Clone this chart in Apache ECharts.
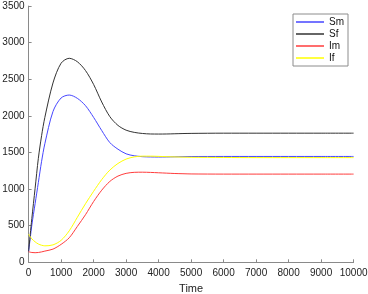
<!DOCTYPE html>
<html>
<head>
<meta charset="utf-8">
<script src="https://cdn.jsdelivr.net/npm/echarts@6/dist/echarts.min.js"></script>
<style>
  html, body { margin: 0; padding: 0; background: #fff; }
  #chart { width: 368px; height: 294px; }
</style>
</head>
<body>
<div id="chart"></div>
<script>
// time points
const times = [0, 50, 100, 200, 300, 400, 500, 750, 1000, 1250, 1500, 1750, 2000, 2250, 2500, 2750, 3000, 3250, 3500, 3750, 4000, 4250, 4500, 4750, 5000, 6000, 7000, 8000, 9000, 10000];
const sm = [150, 330, 510, 800, 1090, 1380, 1620, 2060, 2245, 2285, 2240, 2140, 1980, 1800, 1635, 1545, 1482, 1455, 1443, 1439, 1438, 1439, 1441, 1443, 1445, 1446, 1446, 1446, 1446, 1446];
const sf = [150, 380, 600, 1010, 1420, 1730, 1980, 2450, 2720, 2787, 2740, 2620, 2430, 2190, 1990, 1870, 1805, 1775, 1760, 1753, 1752, 1753, 1756, 1759, 1761, 1764, 1764, 1764, 1764, 1764];
const im = [145, 138, 134, 131, 134, 142, 153, 180, 245, 335, 490, 650, 830, 985, 1105, 1178, 1215, 1229, 1231, 1228, 1223, 1218, 1213, 1210, 1207, 1205, 1205, 1205, 1205, 1205];
const iff = [385, 350, 320, 280, 250, 233, 225, 238, 300, 430, 615, 800, 970, 1130, 1260, 1350, 1410, 1440, 1450, 1450, 1447, 1443, 1440, 1437, 1435, 1432, 1430, 1430, 1430, 1430];
const names = ['Sm', 'Sf', 'Im', 'If'];
const colors = ['#4646ff', '#333333', '#ff3c3c', '#ffff00'];

const pair = (arr) => times.map((t, i) => [t, arr[i]]);
const seriesData = [sm, sf, im, iff];

const chart = echarts.init(document.getElementById('chart'));
const font = 'Liberation Sans, Arial, sans-serif';

chart.setOption({
    animation: false,
    backgroundColor: '#fff',
    grid: { left: 28.6, right: 14.4, top: 6.1, bottom: 31.7, outerBoundsMode: 'none' },
    legend: {
        orient: 'vertical',
        left: 293,
        top: 14,
        padding: [2, 4, 2, 3],
        itemGap: 0,
        itemWidth: 28,
        itemHeight: 1.5,
        icon: 'rect',
        borderColor: '#8c8c8c',
        borderWidth: 1,
        data: names,
        textStyle: { fontFamily: font, fontSize: 10, color: '#111', lineHeight: 12 },
    },
    xAxis: {
        type: 'value',
        min: 0,
        max: 10000,
        interval: 1000,
        name: 'Time',
        nameLocation: 'middle',
        nameGap: 20,
        nameTextStyle: { fontFamily: font, fontSize: 11, color: '#222' },
        axisLine: { lineStyle: { color: '#8a8a8a', width: 1 } },
        axisTick: { inside: true, length: 3, lineStyle: { color: '#8a8a8a' } },
        axisLabel: { fontFamily: font, fontSize: 10, color: '#222', margin: 6, formatter: (v) => String(v) },
        splitLine: { show: false },
    },
    yAxis: {
        type: 'value',
        min: 0,
        max: 3500,
        interval: 500,
        axisLine: { show: true, lineStyle: { color: '#8a8a8a', width: 1 } },
        axisTick: { show: true, inside: true, length: 3, lineStyle: { color: '#8a8a8a' } },
        axisLabel: { fontFamily: font, fontSize: 10, color: '#222', margin: 4, formatter: (v) => String(v) },
        splitLine: { show: false },
    },
    series: names.map((n, i) => ({
        name: n,
        type: 'line',
        data: pair(seriesData[i]),
        smooth: 0.3,
        showSymbol: false,
        symbol: 'none',
        itemStyle: { color: colors[i] },
        lineStyle: { color: colors[i], width: 1 },
    })),
});
</script>
</body>
</html>
